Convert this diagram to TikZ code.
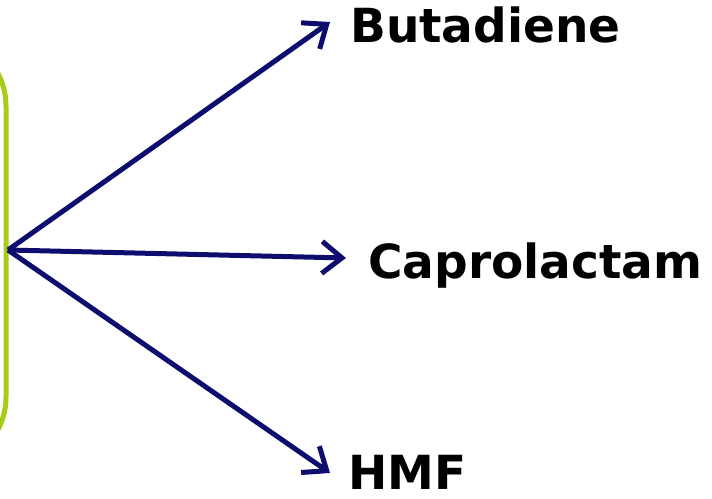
\documentclass[tikz,border=0pt]{standalone}
\usepackage{fontspec}
\setmainfont{DejaVu Sans}
\usetikzlibrary{arrows.meta}
\definecolor{boxgreen}{HTML}{A6CC17}
\definecolor{navy}{HTML}{0D0D6E}
\tikzset{
  lbl/.style={anchor=base west, inner sep=0pt, font=\fontsize{47}{50}\selectfont\bfseries, text=black},
  arr/.style={draw=navy, line width=5pt, -{Straight Barb[length=20pt,width=32pt,line width=5pt]}}
}
\begin{document}
\begin{tikzpicture}[x=1pt,y=-1pt]
\useasboundingbox (0,0) rectangle (712,498);
\clip (0,0) rectangle (712,498);
\draw[boxgreen, line width=5pt, rounded corners=70pt] (-120,36) rectangle (6,467);
\coordinate (src) at (8,250);
\node[lbl] (but) at (350,42) {Butadiene};
\node[lbl] (cap) at (368,278) {Caprolactam};
\node[lbl] (hmf) at (348,489) {HMF};
\coordinate (t1) at (330,22);
\coordinate (t2) at (346,258);
\coordinate (t3) at (330,473);
\draw[arr] (src) -- (t1);
\draw[arr] (src) -- (t2);
\draw[arr] (src) -- (t3);
\end{tikzpicture}
\end{document}
